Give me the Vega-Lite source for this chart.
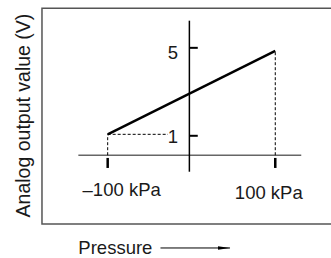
{
  "$schema": "https://vega.github.io/schema/vega-lite/v6.json",
  "width": 331,
  "height": 258,
  "autosize": "none",
  "padding": 0,
  "config": {"view": {"stroke": null}, "text": {"font": "Liberation Sans", "fontSize": 18.5, "color": "#1a1a1a"}},
  "encoding": {
    "x": {"field": "x", "type": "quantitative", "scale": {"domain": [-228.5, 166.5], "nice": false, "zero": false}, "axis": null},
    "y": {"field": "y", "type": "quantitative", "scale": {"domain": [-4.92, 7.43], "nice": false, "zero": false}, "axis": null}
  },
  "layer": [
    {
      "data": {"values": [{"x": -178.4, "x2": 200, "y": -3.29, "y2": 7.03}]},
      "mark": {"type": "rect", "filled": false, "stroke": "#555", "strokeWidth": 1.5},
      "encoding": {"x2": {"field": "x2"}, "y2": {"field": "y2"}}
    },
    {
      "data": {"values": [{"x": -135, "x2": 131, "y": 0}]},
      "mark": {"type": "rule", "stroke": "#666", "strokeWidth": 1.5},
      "encoding": {"x2": {"field": "x2"}}
    },
    {
      "data": {"values": [{"x": -2.5, "y": -0.79, "y2": 6.44}]},
      "mark": {"type": "rule", "stroke": "#000", "strokeWidth": 1.5},
      "encoding": {"y2": {"field": "y2"}}
    },
    {
      "data": {"values": [{"x": -100, "y": -0.13, "y2": -0.61}, {"x": 100, "y": -0.13, "y2": -0.61}]},
      "mark": {"type": "rule", "stroke": "#000", "strokeWidth": 2.5},
      "encoding": {"y2": {"field": "y2"}}
    },
    {
      "data": {"values": [{"x": -2.5, "x2": 7.5, "y": 0.93}, {"x": -2.5, "x2": 7.5, "y": 5.14}]},
      "mark": {"type": "rule", "stroke": "#000", "strokeWidth": 2},
      "encoding": {"x2": {"field": "x2"}}
    },
    {
      "data": {"values": [
        {"x": -100, "x2": -100, "y": 0, "y2": 1},
        {"x": 100, "x2": 100, "y": 0, "y2": 5},
        {"x": -100, "x2": -28, "y": 1, "y2": 1}
      ]},
      "mark": {"type": "rule", "stroke": "#000", "strokeWidth": 1, "strokeDash": [3, 2]},
      "encoding": {"x2": {"field": "x2"}, "y2": {"field": "y2"}}
    },
    {
      "data": {"values": [{"x": -100, "y": 1}, {"x": 100, "y": 5}]},
      "mark": {"type": "line", "stroke": "#000", "strokeWidth": 2.5}
    },
    {
      "data": {"values": [{"x": 0, "y": 1, "label": "1"}, {"x": 0, "y": 5, "label": "5"}]},
      "mark": {"type": "text", "align": "right", "baseline": "middle", "dx": -13.5, "dy": 2.5},
      "encoding": {"text": {"field": "label"}}
    },
    {
      "data": {"values": [{"x": -100, "y": 0, "label": "–100 kPa"}]},
      "mark": {"type": "text", "align": "center", "baseline": "middle", "dx": 14, "dy": 35},
      "encoding": {"text": {"field": "label"}}
    },
    {
      "data": {"values": [{"x": 100, "y": 0, "label": "100 kPa"}]},
      "mark": {"type": "text", "align": "center", "baseline": "middle", "dx": -6.5, "dy": 37.5},
      "encoding": {"text": {"field": "label"}}
    },
    {
      "data": {"values": [{"x": -135, "y": -4.44, "label": "Pressure"}]},
      "mark": {"type": "text", "align": "left", "baseline": "middle"},
      "encoding": {"text": {"field": "label"}}
    },
    {
      "data": {"values": [{"x": -37, "x2": 46, "y": -4.44}]},
      "mark": {"type": "rule", "stroke": "#000", "strokeWidth": 1},
      "encoding": {"x2": {"field": "x2"}}
    },
    {
      "data": {"values": [{"x": 38.8, "y": -4.44}]},
      "mark": {"type": "point", "shape": "M-1,-0.3L1,0L-1,0.3Z", "size": 144, "filled": true, "color": "#000", "opacity": 1}
    },
    {
      "data": {"values": [{"x": -200, "y": 1.9, "label": "Analog output value (V)"}]},
      "mark": {"type": "text", "align": "center", "baseline": "middle", "angle": 270, "fontSize": 19.5},
      "encoding": {"text": {"field": "label"}}
    }
  ]
}
